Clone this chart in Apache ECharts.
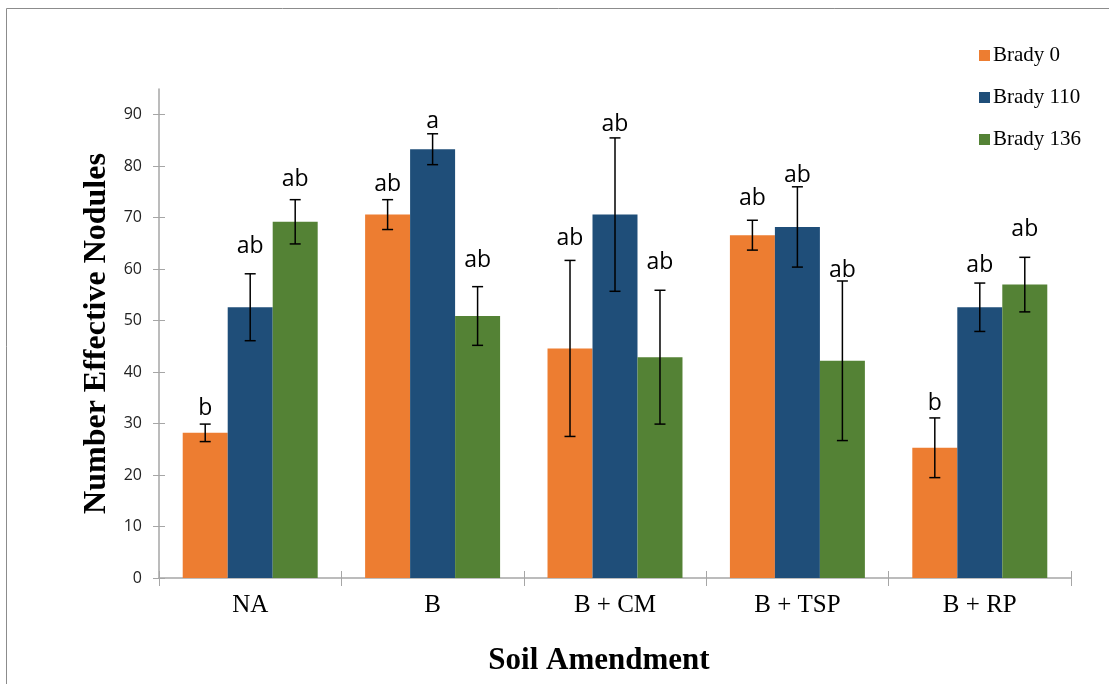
<!DOCTYPE html>
<html>
<head>
<meta charset="utf-8">
<script src="https://cdn.jsdelivr.net/npm/echarts@6/dist/echarts.min.js"></script>
<style>
  html, body { margin: 0; padding: 0; background: #fff; }
  #chart { width: 1109px; height: 684px; }
</style>
</head>
<body>
<div id="chart"></div>
<script>
// 토양 처리별 유효 근류 수
const categories = ['NA', 'B', 'B + CM', 'B + TSP', 'B + RP'];
const seriesNames = ['Brady 0', 'Brady 110', 'Brady 136'];
const yTicks = [0, 10, 20, 30, 40, 50, 60, 70, 80, 90];

const brady0 = [28.2, 70.6, 44.6, 66.6, 25.3];
const brady110 = [52.6, 83.3, 70.6, 68.2, 52.6];
const brady136 = [69.2, 50.9, 42.9, 42.2, 57.0];

// 오차 막대 (±)
const err0 = [1.7, 2.9, 17.1, 2.9, 5.8];
const err110 = [6.5, 3.0, 14.9, 7.8, 4.7];
const err136 = [4.3, 5.7, 13.0, 15.5, 5.3];

// 유의성 문자와 그 기준 높이 (값 단위)
const letters0 = ['b', 'ab', 'ab', 'ab', 'b'];
const letters110 = ['ab', 'a', 'ab', 'ab', 'ab'];
const letters136 = ['ab', 'ab', 'ab', 'ab', 'ab'];
const letterAt0 = [31.9, 75.3, 64.8, 72.7, 32.9];
const letterAt110 = [63.3, 87.6, 87.1, 77.2, 59.6];
const letterAt136 = [76.3, 60.6, 60.3, 58.6, 66.7];

const colors = ['#ED7D31', '#1F4E79', '#548235'];
const CAT_GAP = 0.26;

const values = [brady0, brady110, brady136];
const errors = [err0, err110, err136];
const letters = [letters0, letters110, letters136];
const letterAt = [letterAt0, letterAt110, letterAt136];

function errorSeries(k) {
    return {
        type: 'custom',
        z: 5,
        data: values[k].map((v, i) => [i, v, errors[k][i]]),
        renderItem: function (params, api) {
            const i = api.value(0);
            const v = api.value(1);
            const e = api.value(2);
            const band = api.size([1, 0])[0];
            const barW = band * (1 - CAT_GAP) / 3;
            const x = api.coord([i, v])[0] + (k - 1) * barW;
            const yHi = api.coord([i, v + e])[1];
            const yLo = api.coord([i, v - e])[1];
            const yTxt = api.coord([i, letterAt[k][params.dataIndex]])[1];
            const ls = { stroke: '#000', lineWidth: 1.5 };
            return {
                type: 'group',
                children: [
                    { type: 'line', shape: { x1: x, y1: yHi, x2: x, y2: yLo }, style: ls },
                    { type: 'line', shape: { x1: x - 5.5, y1: yHi, x2: x + 5.5, y2: yHi }, style: ls },
                    { type: 'line', shape: { x1: x - 5.5, y1: yLo, x2: x + 5.5, y2: yLo }, style: ls },
                    {
                        type: 'text',
                        style: {
                            text: letters[k][params.dataIndex],
                            x: x,
                            y: yTxt + 6,
                            align: 'center',
                            verticalAlign: 'bottom',
                            fontFamily: 'Open Sans',
                            fontSize: 23,
                            fill: '#000'
                        }
                    }
                ]
            };
        }
    };
}

function initChart() {
    const chart = echarts.init(document.getElementById('chart'));
    const axisGray = '#a6a6a6';

    const option = {
        animation: false,
        backgroundColor: '#fff',
        graphic: [{
            type: 'rect',
            silent: true,
            shape: { x: 6.5, y: 8.5, width: 1200, height: 800 },
            style: { fill: 'none', stroke: '#8c8c8c', lineWidth: 1 }
        }],
        legend: {
            data: seriesNames,
            orient: 'vertical',
            left: 979,
            top: 45,
            padding: 0,
            itemGap: 21,
            itemWidth: 11,
            itemHeight: 11,
            icon: 'rect',
            textStyle: { fontFamily: 'Liberation Serif', fontSize: 21, color: '#000', padding: [0, 0, 0, -2] }
        },
        grid: { left: 159, right: 38, top: 89, bottom: 106, containLabel: false },
        xAxis: [{
            type: 'category',
            data: categories,
            name: 'Soil Amendment',
            nameLocation: 'middle',
            nameGap: 67,
            nameTextStyle: {
                fontFamily: 'Liberation Serif', fontSize: 31, fontWeight: 'bold',
                color: '#000', verticalAlign: 'top', padding: [0, 32, 0, 0]
            },
            axisLine: { lineStyle: { color: axisGray, width: 1.5 } },
            axisTick: { show: true, length: 8, lineStyle: { color: axisGray } },
            axisLabel: { fontFamily: 'Liberation Serif', fontSize: 25, color: '#000', margin: 15 }
        }, {
            type: 'category',
            data: categories,
            position: 'bottom',
            axisLine: { show: false },
            axisTick: { show: true, inside: true, length: 7, lineStyle: { color: axisGray } },
            axisLabel: { show: false }
        }],
        yAxis: [{
            type: 'value',
            min: 0,
            max: 95,
            interval: 10,
            name: 'Number Effective Nodules',
            nameLocation: 'middle',
            nameGap: 40,
            nameTextStyle: { fontFamily: 'Liberation Serif', fontSize: 32, fontWeight: 'bold', color: '#000' },
            splitLine: { show: false },
            axisLine: { show: true, lineStyle: { color: axisGray, width: 1.5 } },
            axisTick: { show: true, length: 6, customValues: yTicks, lineStyle: { color: axisGray } },
            axisLabel: { customValues: yTicks, fontFamily: 'Open Sans', fontSize: 16, color: '#222', margin: 17 }
        }, {
            type: 'value',
            min: 0,
            max: 95,
            position: 'left',
            splitLine: { show: false },
            axisLine: { show: false },
            axisTick: { show: true, inside: true, length: 6, customValues: yTicks, lineStyle: { color: axisGray } },
            axisLabel: { show: false }
        }],
        series: [
            ...values.map((data, k) => ({
                name: seriesNames[k],
                type: 'bar',
                data: data,
                barGap: '0%',
                barCategoryGap: (CAT_GAP * 100) + '%',
                itemStyle: { color: colors[k] }
            })),
            errorSeries(0),
            errorSeries(1),
            errorSeries(2)
        ]
    };
    chart.setOption(option);
    return chart;
}

document.addEventListener('DOMContentLoaded', function () {
    const chart = initChart();
    window.addEventListener('resize', function () {
        chart.resize();
    });
});
</script>
</body>
</html>
